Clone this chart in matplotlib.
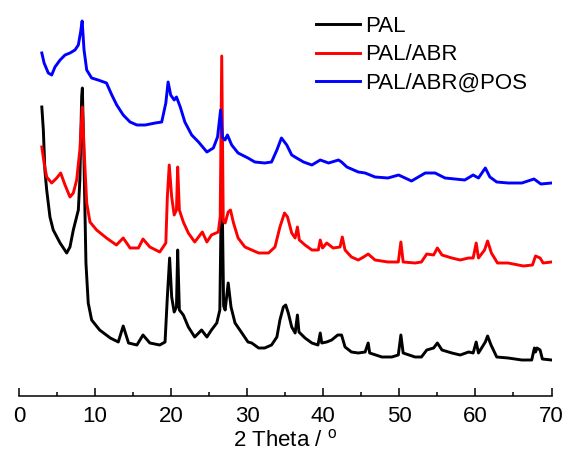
import matplotlib
matplotlib.use("Agg")
import matplotlib.pyplot as plt

plt.rcParams['font.family'] = ['Liberation Sans', 'DejaVu Sans']

# -------------------- data (arbitrary intensity units) --------------------
pal_2theta = [3.0, 3.2, 3.4, 3.64, 4.07, 4.5, 5.4, 6.27, 6.7, 7.14, 7.8, 8.0, 8.24, 8.33, 8.55,
              8.8, 9.1, 9.55, 10.6, 12.0, 13.05, 13.7, 14.4, 15.5, 16.3, 17.2, 18.5, 19.2, 19.5,
              19.8, 20.07, 20.4, 20.7, 20.86, 21.08, 21.6, 22.26, 23.1, 24.0, 24.7, 25.3, 26.0,
              26.4, 26.65, 26.9, 27.1, 27.5, 27.87, 28.4, 29.3, 30.1, 30.6, 31.5, 32.3, 33.2,
              33.9, 34.3, 34.75, 35.06, 35.4, 35.85, 36.3, 36.6, 36.8, 37.6, 38.5, 39.3, 39.6,
              39.8, 40.45, 41.1, 41.9, 42.4, 42.86, 43.7, 44.6, 45.5, 45.9, 46.1, 47.7, 49.0,
              49.86, 50.2, 50.5, 52.06, 52.9, 53.6, 54.5, 55.0, 55.6, 56.9, 58.0, 59.1, 59.7,
              60.1, 60.4, 61.3, 61.6, 62.05, 62.8, 64.3, 66.1, 67.4, 67.75, 67.9, 68.1, 68.5,
              68.8, 70.0]
pal_int = [289, 266, 226, 206, 179, 166, 153, 143, 149, 166, 186, 216, 300, 308, 233,
           133, 93, 76, 66, 58, 54, 70, 53, 51, 61, 53, 51, 54, 99,
           138, 99, 84, 89, 146, 86, 81, 69, 59, 66, 59, 66, 73,
           86, 230, 90, 86, 113, 89, 73, 63, 54, 53, 48, 48, 51,
           59, 76, 89, 91, 83, 69, 63, 81, 64, 58, 53, 51, 63,
           53, 54, 56, 61, 61, 49, 44, 43, 44, 53, 43, 39, 39,
           41, 61, 43, 39, 39, 46, 48, 53, 46, 43, 41, 44, 43,
           54, 43, 54, 60, 51, 39, 38, 36, 36, 48, 44, 48, 46,
           37, 36]

abr_2theta = [3.0, 3.3, 3.64, 4.3, 4.96, 5.48, 6.05, 6.7, 7.14, 7.58, 8.0, 8.33, 8.6, 8.9,
              9.33, 10.2, 11.5, 12.8, 13.7, 14.6, 15.7, 16.3, 17.2, 18.5, 19.3, 19.5, 19.75,
              20.07, 20.4, 20.7, 20.86, 21.08, 21.6, 22.26, 23.1, 24.1, 24.7, 25.3, 26.2, 26.45,
              26.65, 26.85, 27.1, 27.5, 27.8, 28.2, 28.8, 29.7, 30.6, 31.5, 32.8, 33.65, 34.3,
              34.9, 35.3, 35.85, 36.3, 36.6, 36.85, 37.6, 38.5, 39.35, 39.6, 39.9, 40.45, 41.3,
              42.2, 42.5, 42.86, 43.7, 44.6, 45.3, 45.9, 46.8, 48.5, 49.86, 50.2, 50.5, 52.06,
              52.9, 53.6, 54.5, 55.0, 55.6, 56.9, 58.0, 59.1, 59.7, 60.1, 60.4, 61.2, 61.6,
              62.1, 62.9, 64.3, 66.3, 67.5, 67.9, 68.5, 68.9, 70.0]
abr_int = [249, 233, 219, 213, 218, 223, 211, 199, 203, 216, 246, 289, 239, 193,
           174, 166, 158, 151, 158, 148, 148, 157, 149, 144, 153, 199, 231,
           199, 181, 186, 229, 186, 174, 163, 154, 164, 154, 161, 164, 179,
           340, 175, 173, 184, 186, 173, 158, 149, 146, 143, 143, 149, 169,
           183, 179, 163, 158, 169, 156, 151, 146, 146, 156, 148, 153, 148,
           149, 159, 146, 139, 136, 139, 142, 136, 134, 134, 154, 134, 133,
           134, 142, 141, 148, 141, 138, 136, 138, 138, 153, 138, 146, 155,
           143, 133, 133, 130, 131, 140, 138, 133, 134]

pos_2theta = [3.0, 3.3, 3.85, 4.3, 4.73, 5.4, 6.05, 6.7, 7.36, 7.8, 8.1, 8.3, 8.55, 8.9,
              9.55, 10.4, 11.5, 12.2, 12.85, 13.7, 14.6, 15.5, 16.6, 17.9, 18.76, 19.3, 19.6,
              19.94, 20.4, 20.7, 21.2, 21.8, 22.7, 23.6, 24.7, 25.55, 26.1, 26.5, 26.73, 27.08,
              27.4, 27.96, 28.8, 30.1, 31.0, 32.3, 33.2, 33.9, 34.5, 35.2, 35.85, 36.5, 37.4,
              38.5, 39.6, 40.7, 42.0, 42.4, 43.1, 44.6, 45.5, 46.8, 48.5, 49.9, 51.6, 53.4,
              54.7, 56.0, 57.3, 58.6, 59.7, 60.4, 61.3, 61.9, 62.8, 64.3, 66.1, 67.7, 68.6,
              70.0]
pos_int = [343, 333, 323, 321, 329, 336, 341, 343, 346, 351, 364, 375, 346, 326,
           318, 316, 313, 301, 291, 281, 274, 271, 271, 273, 274, 293, 314,
           301, 296, 299, 289, 274, 261, 254, 244, 248, 259, 286, 259, 256,
           261, 251, 243, 238, 234, 233, 234, 246, 258, 251, 241, 238, 234,
           231, 236, 233, 236, 234, 229, 224, 223, 219, 218, 221, 215, 223,
           223, 218, 217, 216, 221, 218, 228, 219, 214, 213, 213, 217, 212,
           213]

labels = ['PAL', 'PAL/ABR', 'PAL/ABR@POS']

# -------------------- figure --------------------
fig = plt.figure(figsize=(5.68, 4.58), dpi=100)
ax = fig.add_axes([19 / 568, 62 / 458, 532.5 / 568, 396 / 458])

ax.plot(pal_2theta, pal_int, color='black', lw=2.1, label=labels[0])
ax.plot(abr_2theta, abr_int, color='#ff0000', lw=2.1, label=labels[1])
ax.plot(pos_2theta, pos_int, color='#0000ff', lw=2.1, label=labels[2])

ax.set_xlim(0, 70)
ax.set_ylim(0, 396)
ax.set_xticks(range(0, 71, 10))
ax.set_xticks(range(5, 70, 10), minor=True)
ax.tick_params(axis='x', which='major', direction='in', length=6, width=1.1, labelsize=16, pad=7)
ax.tick_params(axis='x', which='minor', direction='in', length=3, width=1.1)
ax.set_yticks([])
for s in ['left', 'right', 'top']:
    ax.spines[s].set_visible(False)
ax.spines['bottom'].set_linewidth(1.1)
ax.set_xlabel(r'2 Theta / $^\mathregular{o}$', fontsize=16, labelpad=2)

ax.legend(loc='upper left', bbox_to_anchor=(300 / 568, 1.0), bbox_transform=fig.transFigure,
          frameon=False, fontsize=16, handlelength=2.0, handletextpad=0.25,
          labelspacing=0.35, borderaxespad=0.3)

fig.savefig('out.png', dpi=100)
